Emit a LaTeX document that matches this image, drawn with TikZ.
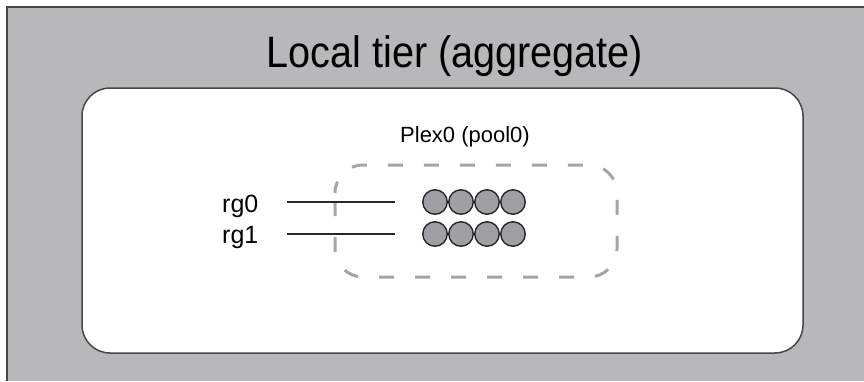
\documentclass[tikz,border=0pt]{standalone}
\usepackage{fontspec}
\setmainfont{Liberation Sans}
\definecolor{bggray}{RGB}{184,184,186}
\definecolor{edgegray}{RGB}{70,70,70}
\definecolor{dashgray}{RGB}{165,165,168}
\definecolor{diskgray}{RGB}{160,160,164}
\begin{document}
\begin{tikzpicture}[x=1pt,y=-1pt,
  diskstyle/.style={circle,draw=black!85,line width=1.4pt,fill=diskgray,minimum size=24.5pt,inner sep=0pt},
  rglabel/.style={anchor=base west,inner sep=0pt,font=\fontsize{25}{29}\selectfont},
  rgline/.style={line width=1.1pt,black!85}]
\useasboundingbox (0,0) rectangle (864,381);
% outer gray area
\fill[bggray] (7,7) rectangle (864,381);
\draw[edgegray,line width=1.5pt] (7,381) -- (7,7) -- (864,7);
% inner white rounded box
\draw[edgegray,line width=1.5pt,fill=white,rounded corners=28pt] (82,88) rectangle (803,353);
% title
\node[anchor=base,inner sep=0pt,font=\fontsize{44}{48}\selectfont,xscale=0.9,transform shape] (title) at (455,67) {Local tier (aggregate)};
% plex label
\node[anchor=base west,inner sep=0pt,font=\fontsize{22}{25}\selectfont] (plex) at (400,142) {Plex0 (pool0)};
% dashed plex box
\draw[dashgray,line width=3pt,dash pattern=on 15pt off 21pt,dash phase=-8pt,rounded corners=28pt] (335,165) rectangle (617,277);
% raid group labels
\node[rglabel] (rg0) at (222,212) {rg0};
\node[rglabel] (rg1) at (222,243) {rg1};
\coordinate (l0a) at (287,202);
\coordinate (l0b) at (395,202);
\coordinate (l1a) at (287,234);
\coordinate (l1b) at (395,234);
\draw[rgline] (l0a) -- (l0b);
\draw[rgline] (l1a) -- (l1b);
% disks
\node[diskstyle] (d01) at (435,202) {};
\node[diskstyle] (d02) at (461,202) {};
\node[diskstyle] (d03) at (487,202) {};
\node[diskstyle] (d04) at (513,202) {};
\node[diskstyle] (d11) at (435,234) {};
\node[diskstyle] (d12) at (461,234) {};
\node[diskstyle] (d13) at (487,234) {};
\node[diskstyle] (d14) at (513,234) {};
\end{tikzpicture}
\end{document}
